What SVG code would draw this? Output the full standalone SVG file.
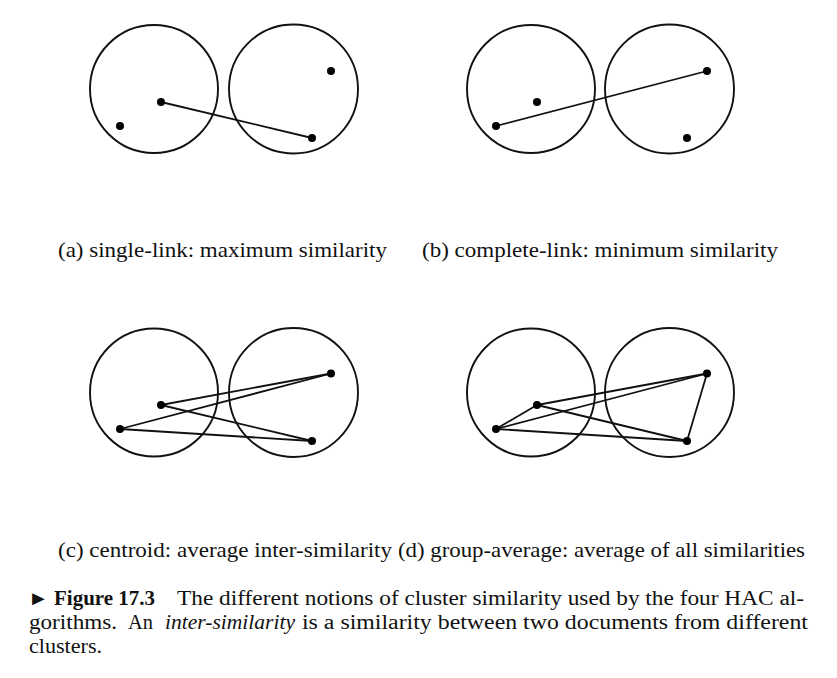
<svg xmlns="http://www.w3.org/2000/svg" width="837" height="678" viewBox="0 0 837 678">
<style>
.c{fill:none;stroke:#111;stroke-width:1.9}
.d{fill:#000}
.l{stroke:#111;stroke-width:1.8;fill:none}
.t{font-family:"Liberation Serif","DejaVu Serif",serif;font-size:21px;fill:#111}
.cap{font-family:"Liberation Serif","DejaVu Serif",serif;font-size:20px;fill:#111}
</style>
<rect width="837" height="678" fill="#fff"/>
<!-- Panel a -->
<g id="panel-a">
<g id="a-cluster1"><circle class="c" cx="154" cy="89" r="64"/></g>
<g id="a-cluster2"><circle class="c" cx="293.5" cy="89" r="64.5"/></g>
<g id="a-connectors"><line class="l" x1="161" y1="102" x2="312" y2="138"/></g>
<g id="a-dots"><circle class="d" cx="161" cy="102" r="4"/><circle class="d" cx="120" cy="126" r="4"/><circle class="d" cx="331" cy="71" r="4"/><circle class="d" cx="312" cy="138" r="4"/></g>
</g>
<!-- Panel b -->
<g id="panel-b">
<g id="b-cluster1"><circle class="c" cx="531" cy="89" r="64"/></g>
<g id="b-cluster2"><circle class="c" cx="669.5" cy="89" r="64.5"/></g>
<g id="b-connectors"><line class="l" x1="496" y1="126" x2="707" y2="71"/></g>
<g id="b-dots"><circle class="d" cx="537" cy="102" r="4"/><circle class="d" cx="496" cy="126" r="4"/><circle class="d" cx="707" cy="71" r="4"/><circle class="d" cx="687" cy="138" r="4"/></g>
</g>
<!-- Panel c -->
<g id="panel-c">
<g id="c-cluster1"><circle class="c" cx="154" cy="392.5" r="64"/></g>
<g id="c-cluster2"><circle class="c" cx="293.5" cy="392.5" r="64.5"/></g>
<g id="c-connectors">
<line class="l" x1="161" y1="405" x2="331" y2="373.5"/>
<line class="l" x1="161" y1="405" x2="312" y2="441"/>
<line class="l" x1="120" y1="429" x2="331" y2="373.5"/>
<line class="l" x1="120" y1="429" x2="312" y2="441"/>
</g>
<g id="c-dots"><circle class="d" cx="161" cy="405" r="4"/><circle class="d" cx="120" cy="429" r="4"/><circle class="d" cx="331" cy="373.5" r="4"/><circle class="d" cx="312" cy="441" r="4"/></g>
</g>
<!-- Panel d -->
<g id="panel-d">
<g id="d-cluster1"><circle class="c" cx="531" cy="392.5" r="64"/></g>
<g id="d-cluster2"><circle class="c" cx="669.5" cy="392.5" r="64.5"/></g>
<g id="d-connectors">
<line class="l" x1="537" y1="405" x2="707" y2="373.5"/>
<line class="l" x1="537" y1="405" x2="687" y2="441"/>
<line class="l" x1="496" y1="429" x2="707" y2="373.5"/>
<line class="l" x1="496" y1="429" x2="687" y2="441"/>
<line class="l" x1="496" y1="429" x2="537" y2="405"/>
<line class="l" x1="707" y1="373.5" x2="687" y2="441"/>
</g>
<g id="d-dots"><circle class="d" cx="537" cy="405" r="4"/><circle class="d" cx="496" cy="429" r="4"/><circle class="d" cx="707" cy="373.5" r="4"/><circle class="d" cx="687" cy="441" r="4"/></g>
</g>
<!-- Labels -->
<g id="labels">
<text class="t" x="58" y="257" textLength="329" lengthAdjust="spacingAndGlyphs">(a) single-link: maximum similarity</text>
<text class="t" x="422" y="257" textLength="356" lengthAdjust="spacingAndGlyphs">(b) complete-link: minimum similarity</text>
<text class="t" x="58" y="557" textLength="334" lengthAdjust="spacingAndGlyphs">(c) centroid: average inter-similarity</text>
<text class="t" x="398" y="557" textLength="407" lengthAdjust="spacingAndGlyphs">(d) group-average: average of all similarities</text>
</g>
<!-- Caption -->
<g id="caption">
<text class="cap" x="28" y="605" font-weight="bold" textLength="127" lengthAdjust="spacingAndGlyphs">► Figure 17.3</text>
<text class="cap" x="177" y="605" textLength="627" lengthAdjust="spacingAndGlyphs">The different notions of cluster similarity used by the four HAC al-</text>
<text class="cap" x="29" y="629" textLength="88" lengthAdjust="spacingAndGlyphs">gorithms.</text>
<text class="cap" x="128" y="629" textLength="25" lengthAdjust="spacingAndGlyphs">An</text>
<text class="cap" x="165" y="629" font-style="italic" textLength="130" lengthAdjust="spacingAndGlyphs">inter-similarity</text>
<text class="cap" x="302" y="629" textLength="506" lengthAdjust="spacingAndGlyphs">is a similarity between two documents from different</text>
<text class="cap" x="29" y="653" textLength="73" lengthAdjust="spacingAndGlyphs">clusters.</text>
</g>
</svg>
